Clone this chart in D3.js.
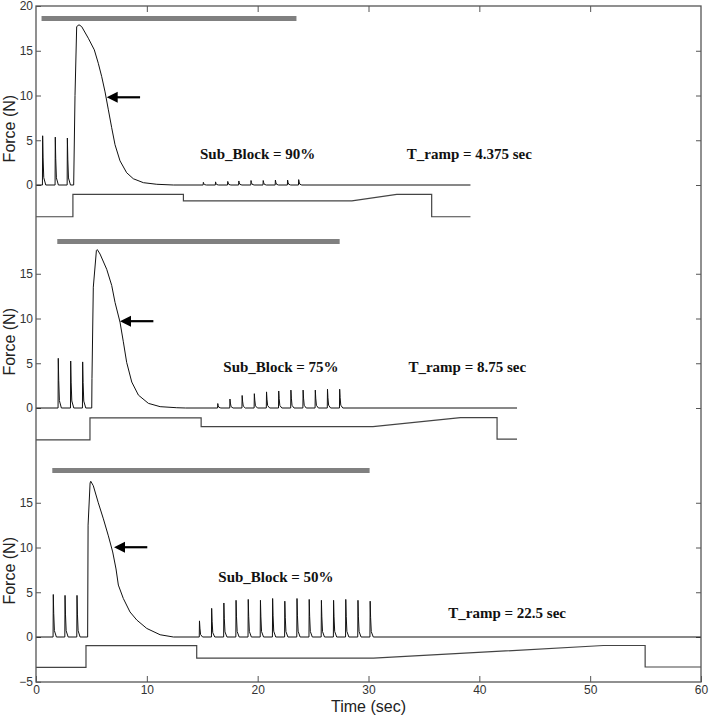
<!DOCTYPE html>
<html>
<head>
<meta charset="utf-8">
<script src="https://cdn.jsdelivr.net/npm/d3@7"></script>
<style>
  body { margin: 0; background: #fff; }
  svg { display: block; }
  .tick text { font-family: "Liberation Sans Narrow", "Liberation Sans", Arial, sans-serif; font-size: 12px; fill: #333; }
  .tick line { stroke: #555; }
  .note { font-family: "Liberation Serif", "Times New Roman", serif; font-weight: bold; font-size: 15px; fill: #111; }
  .axlabel { font-family: "Liberation Sans", Arial, sans-serif; font-size: 16px; fill: #222; }
</style>
</head>
<body>
<svg id="chart" width="709" height="716"></svg>
<script>
// ---- data (time in s, force in N) ----
const xTicks = [0, 10, 20, 30, 40, 50, 60];
const yTickSets = [[0, 5, 10, 15, 20], [0, 5, 10, 15], [-5, 0, 5, 10, 15]];

const subBlock = ["90%", "75%", "50%"];
const tRamp = ["4.375", "8.75", "22.5"];
const traceEnd = [39.2, 43.4, 60];

// three test pulses before the tetanus
const pulseTimes = [[0.6, 1.74, 2.83], [2.01, 3.13, 4.21], [1.56, 2.62, 3.7]];
const pulseAmps = [[5.5, 5.35, 5.25], [5.55, 5.25, 5.15], [4.75, 4.65, 4.65]];

// main contraction + decay
const p1Force = [[3.40, 0], [3.52, 10], [3.67, 17.7], [3.88, 17.9], [4.12, 17.7], [4.72, 16.4], [5.26, 15.1], [5.62, 13.6],
  [5.93, 12.1], [6.23, 10.4], [6.53, 8.4], [6.83, 6.4], [7.13, 4.5], [7.58, 2.7], [8.18, 1.37], [8.78, 0.7],
  [9.69, 0.26], [10.9, 0.08], [12.4, 0]];
const p2Force = [[5.03, 0], [5.05, 3.3], [5.17, 13.5], [5.45, 17.6], [5.53, 17.7], [5.78, 17.2], [6.38, 15.5], [6.83, 13.7],
  [7.13, 11.8], [7.58, 9.6], [7.88, 7.4], [8.18, 5.1], [8.64, 2.9], [9.24, 1.44], [10.14, 0.52], [11.2, 0.15],
  [12.7, 0.03], [13.5, 0]];
const p3Force = [[4.66, 0], [4.70, 12.5], [4.88, 17.2], [4.94, 17.4], [5.17, 16.9], [5.62, 15.0], [6.08, 13.2], [6.53, 11.3],
  [6.92, 9.5], [7.22, 7.6], [7.43, 5.8], [7.88, 4.3], [8.48, 2.8], [9.09, 1.9], [9.99, 0.96], [11.2, 0.25], [12.4, 0]];

// twitches during the sub-block phase
const twitchTimes = [
  [15.1, 16.2, 17.3, 18.3, 19.4, 20.5, 21.6, 22.7, 23.7],
  [16.4, 17.5, 18.6, 19.7, 20.8, 21.9, 23.0, 24.1, 25.2, 26.3, 27.4],
  [14.75, 15.85, 16.95, 18.05, 19.15, 20.25, 21.35, 22.45, 23.55, 24.65, 25.75, 26.85, 27.95, 29.05, 30.15]
];
const twitchAmps = [
  [0.3, 0.35, 0.4, 0.45, 0.5, 0.5, 0.55, 0.55, 0.6],
  [0.5, 1.0, 1.4, 1.6, 1.8, 1.9, 2.0, 2.0, 2.0, 2.1, 2.1],
  [1.8, 3.2, 3.8, 4.1, 4.2, 4.1, 4.3, 4.0, 4.3, 4.2, 4.1, 4.1, 4.2, 4.1, 4.0]
];

// block command trace
const p1Step = [[0, -3.55], [3.33, -3.55], [3.33, -1.05], [13.3, -1.05], [13.3, -1.78], [28.5, -1.78], [32.55, -1.05],
  [35.7, -1.05], [35.7, -3.55], [39.2, -3.55]];
const p2Step = [[0, -3.56], [4.87, -3.56], [4.87, -1.1], [14.9, -1.1], [14.9, -2.07], [30.4, -2.07], [38.3, -1.07],
  [41.6, -1.07], [41.6, -3.48], [43.4, -3.48]];
const p3Step = [[0, -3.4], [4.51, -3.4], [4.51, -0.97], [14.5, -0.97], [14.5, -2.37], [30.45, -2.37], [51.2, -0.95],
  [54.96, -0.95], [54.96, -3.35], [60, -3.35]];

// stimulation bars (start, end) and arrows (tip time, tip force, tail time)
const barSpans = [[0.5, 23.5], [1.92, 27.4], [1.47, 30.1]];
const barLevel = 18.6;
const arrows = [[6.38, 9.8, 9.39], [7.58, 9.7, 10.59], [7.04, 10.03, 10.04]];

// ---- layout ----
const mLeft = 36, mRight = 701, mTop = 6, mBottom = 682;
const zeroY = [185, 408, 637];
const pxPerN = 8.95;
const subPos = [[14.8, 2.9], [16.9, 4.0], [16.45, 6.1]];
const rampPos = [[33.45, 2.9], [33.6, 4.0], [37.2, 2.1]];
const ylabelAt = [6.3, 7.4, 7.4];

const svg = d3.select("#chart");
const x = d3.scaleLinear().domain([0, 60]).range([mLeft, mRight]);

const line = (y) => d3.line().x(d => x(d[0])).y(d => y(d[1]));

function buildForce(i, main) {
  const pts = [[0, 0]];
  const spike = (t, a) => [[t - 0.02, 0], [t, a], [t + 0.04, a * 0.55], [t + 0.1, a * 0.15], [t + 0.28, 0]];
  pulseTimes[i].forEach((t, k) => pts.push(...spike(t, pulseAmps[i][k])));
  pts.push(...main);
  twitchTimes[i].forEach((t, k) => pts.push(...spike(t, twitchAmps[i][k])));
  pts.push([traceEnd[i], 0]);
  return pts;
}

const mains = [p1Force, p2Force, p3Force];
const steps = [p1Step, p2Step, p3Step];

mains.forEach((main, i) => {
  const y = d3.scaleLinear().domain([-5, 20]).range([zeroY[i] + 5 * pxPerN, zeroY[i] - 20 * pxPerN]);
  const g = svg.append("g");

  // left ticks + labels
  g.append("g")
    .attr("transform", `translate(${mLeft},0)`)
    .call(d3.axisLeft(y).tickValues(yTickSets[i]).tickSize(-5).tickPadding(3).tickFormat(d3.format("d")))
    .call(a => a.select(".domain").remove());

  // right ticks
  g.append("g")
    .attr("transform", `translate(${mRight},0)`)
    .call(d3.axisRight(y).tickValues(yTickSets[i].filter(v => v < 20 && v > -5)).tickSize(-5).tickFormat(""))
    .call(a => a.select(".domain").remove());

  // stim bar
  g.append("line")
    .attr("x1", x(barSpans[i][0])).attr("x2", x(barSpans[i][1]))
    .attr("y1", y(barLevel)).attr("y2", y(barLevel))
    .attr("stroke", "#808080").attr("stroke-width", 5);

  // block trace
  g.append("path")
    .attr("d", line(y)(steps[i]))
    .attr("fill", "none").attr("stroke", "#444").attr("stroke-width", 1.2);

  // force trace
  g.append("path")
    .attr("d", line(y)(buildForce(i, main)))
    .attr("fill", "none").attr("stroke", "#111").attr("stroke-width", 1)
    .attr("stroke-linejoin", "round");

  // arrow
  const [tt, tf, tail] = arrows[i];
  const ax = x(tt), ay = y(tf);
  g.append("line")
    .attr("x1", ax + 8).attr("x2", x(tail)).attr("y1", ay).attr("y2", ay)
    .attr("stroke", "#000").attr("stroke-width", 2.2);
  g.append("path")
    .attr("d", `M${ax},${ay}L${ax + 11},${ay - 5.5}L${ax + 11},${ay + 5.5}Z`)
    .attr("fill", "#000");

  // notes
  g.append("text").attr("class", "note")
    .attr("x", x(subPos[i][0])).attr("y", y(subPos[i][1]))
    .text(`Sub_Block = ${subBlock[i]}`);
  g.append("text").attr("class", "note")
    .attr("x", x(rampPos[i][0])).attr("y", y(rampPos[i][1]))
    .text(`T_ramp = ${tRamp[i]} sec`);

  // y label
  g.append("text").attr("class", "axlabel")
    .attr("transform", `translate(15,${y(ylabelAt[i])}) rotate(-90)`)
    .attr("text-anchor", "middle")
    .text("Force (N)");
});

// x axes
svg.append("g")
  .attr("transform", `translate(0,${mBottom})`)
  .call(d3.axisBottom(x).tickValues(xTicks).tickSize(-6).tickPadding(3))
  .call(a => a.select(".domain").remove());
svg.append("g")
  .attr("transform", `translate(0,${mTop})`)
  .call(d3.axisTop(x).tickValues(xTicks.slice(1, -1)).tickSize(-6).tickFormat(""))
  .call(a => a.select(".domain").remove());

// frame
svg.append("rect")
  .attr("x", mLeft).attr("y", mTop)
  .attr("width", mRight - mLeft).attr("height", mBottom - mTop)
  .attr("fill", "none").attr("stroke", "#555").attr("stroke-width", 1.3);

svg.append("text").attr("class", "axlabel")
  .attr("x", (mLeft + mRight) / 2).attr("y", 712)
  .attr("text-anchor", "middle")
  .text("Time (sec)");
</script>
</body>
</html>
